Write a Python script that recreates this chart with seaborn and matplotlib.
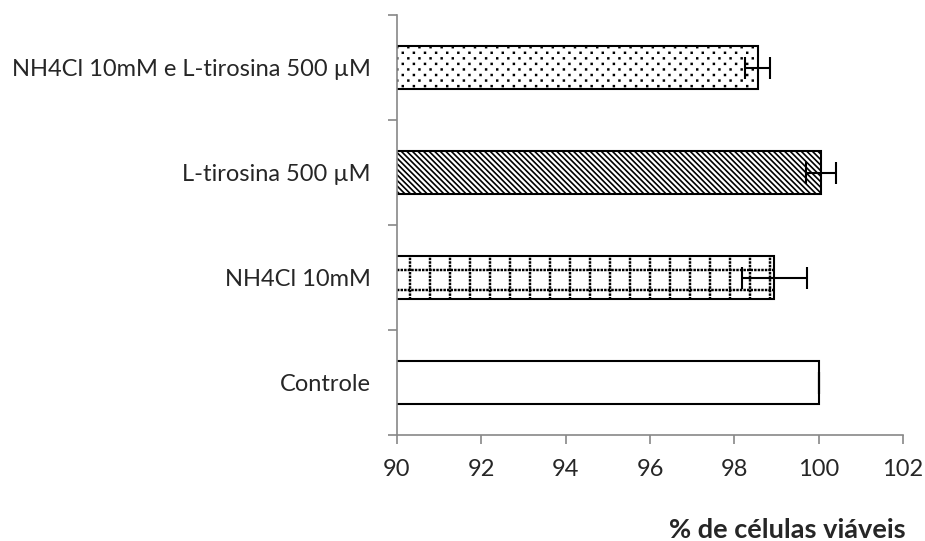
import warnings
import matplotlib
matplotlib.use("Agg")
import matplotlib.pyplot as plt
from matplotlib import hatch as mhatch
from matplotlib.path import Path
import seaborn as sns
import pandas as pd
import numpy as np

warnings.filterwarnings("ignore")

# Cell viability per treatment (mean and error)
categories = ["NH4Cl 10mM e L-tirosina 500 µM", "L-tirosina 500 µM", "NH4Cl 10mM", "Controle"]
viability = [98.55, 100.05, 98.95, 100.0]
errors = [0.3, 0.35, 0.78, 0.0]
hatches = [";", "\\" * 6, ":", ""]
x_ticks = [90, 92, 94, 96, 98, 100, 102]


class DotPatterns(mhatch.HatchPatternBase):
    """':' draws a dotted grid, ';' a staggered field of dots."""

    half = 0.006

    def __init__(self, hatch, density):
        pts = []
        if ":" in hatch:
            n_lines, n_dots = 5, 28
            for i in range(n_lines):
                c = (i + 0.5) / n_lines
                for j in range(n_dots):
                    t = (j + 0.5) / n_dots
                    pts.append((c, t))
                    pts.append((t, c))
        if ";" in hatch:
            rows, cols = 18, 9
            for r in range(rows):
                off = 0.5 / cols if r % 2 else 0.0
                for c in range(cols):
                    pts.append(((c + 0.25) / cols + off, (r + 0.5) / rows))
        self.points = pts
        self.num_vertices = 5 * len(pts)

    def set_vertices_and_codes(self, vertices, codes):
        h = self.half
        for k, (x, y) in enumerate(self.points):
            vertices[5 * k:5 * k + 5] = [(x - h, y - h), (x + h, y - h),
                                         (x + h, y + h), (x - h, y + h),
                                         (x - h, y - h)]
            codes[5 * k:5 * k + 5] = [Path.MOVETO, Path.LINETO, Path.LINETO,
                                      Path.LINETO, Path.CLOSEPOLY]


mhatch._hatch_types.append(DotPatterns)

sns.set_theme(style="white")
plt.rcParams["font.family"] = ["Lato", "DejaVu Sans"]
plt.rcParams["hatch.linewidth"] = 0.9
plt.rcParams["hatch.color"] = "black"

df = pd.DataFrame({"tratamento": categories, "viabilidade": viability})

W, H = 925, 541
fig = plt.figure(figsize=(W / 100, H / 100), dpi=100)
ax = fig.add_axes([397 / W, (H - 435) / H, (903 - 397) / W, (435 - 15) / H])

sns.barplot(data=df, x="viabilidade", y="tratamento", order=categories,
            orient="h", color="white", edgecolor="black", linewidth=1.5,
            width=0.41, errorbar=None, ax=ax)

for patch, h in zip(ax.patches, hatches):
    patch.set_hatch(h)
    patch.set_facecolor("white")
    patch.set_edgecolor("black")
    if h.startswith("\\") and hasattr(patch, "set_hatch_linewidth"):
        patch.set_hatch_linewidth(1.2)

ypos = np.arange(len(categories))
ax.errorbar(viability, ypos, xerr=errors, fmt="none", ecolor="black",
            elinewidth=1.5, capsize=8, capthick=1.5, zorder=5)

ax.set_xlim(90, 102)
ax.set_ylim(len(categories) - 0.5, -0.5)
ax.set_xticks(x_ticks)
ax.set_xticklabels([str(t) for t in x_ticks], fontsize=17)

# category boundaries carry the tick marks, centres carry the labels
ax.set_yticks(np.arange(-0.5, len(categories), 1.0))
ax.set_yticklabels([])
ax.set_yticks(ypos, minor=True)
ax.set_yticklabels(categories, minor=True, fontsize=17)
ax.tick_params(axis="y", which="minor", length=0, pad=19)
ax.tick_params(axis="y", which="major", length=6.5, width=1.2, color="#888888",
               direction="out", left=True)
ax.tick_params(axis="x", which="major", length=6.5, width=1.2, color="#888888",
               direction="out", bottom=True, pad=11)

for side in ["top", "right"]:
    ax.spines[side].set_visible(False)
for side in ["left", "bottom"]:
    ax.spines[side].set_color("#888888")
    ax.spines[side].set_linewidth(1.2)

ax.set_xlabel("")
ax.set_ylabel("")
fig.text(906 / W, (H - 530) / H, "% de células viáveis", ha="right", va="center",
         fontsize=19.5, fontweight="bold")

fig.savefig("out.png", dpi=100, facecolor="white")
